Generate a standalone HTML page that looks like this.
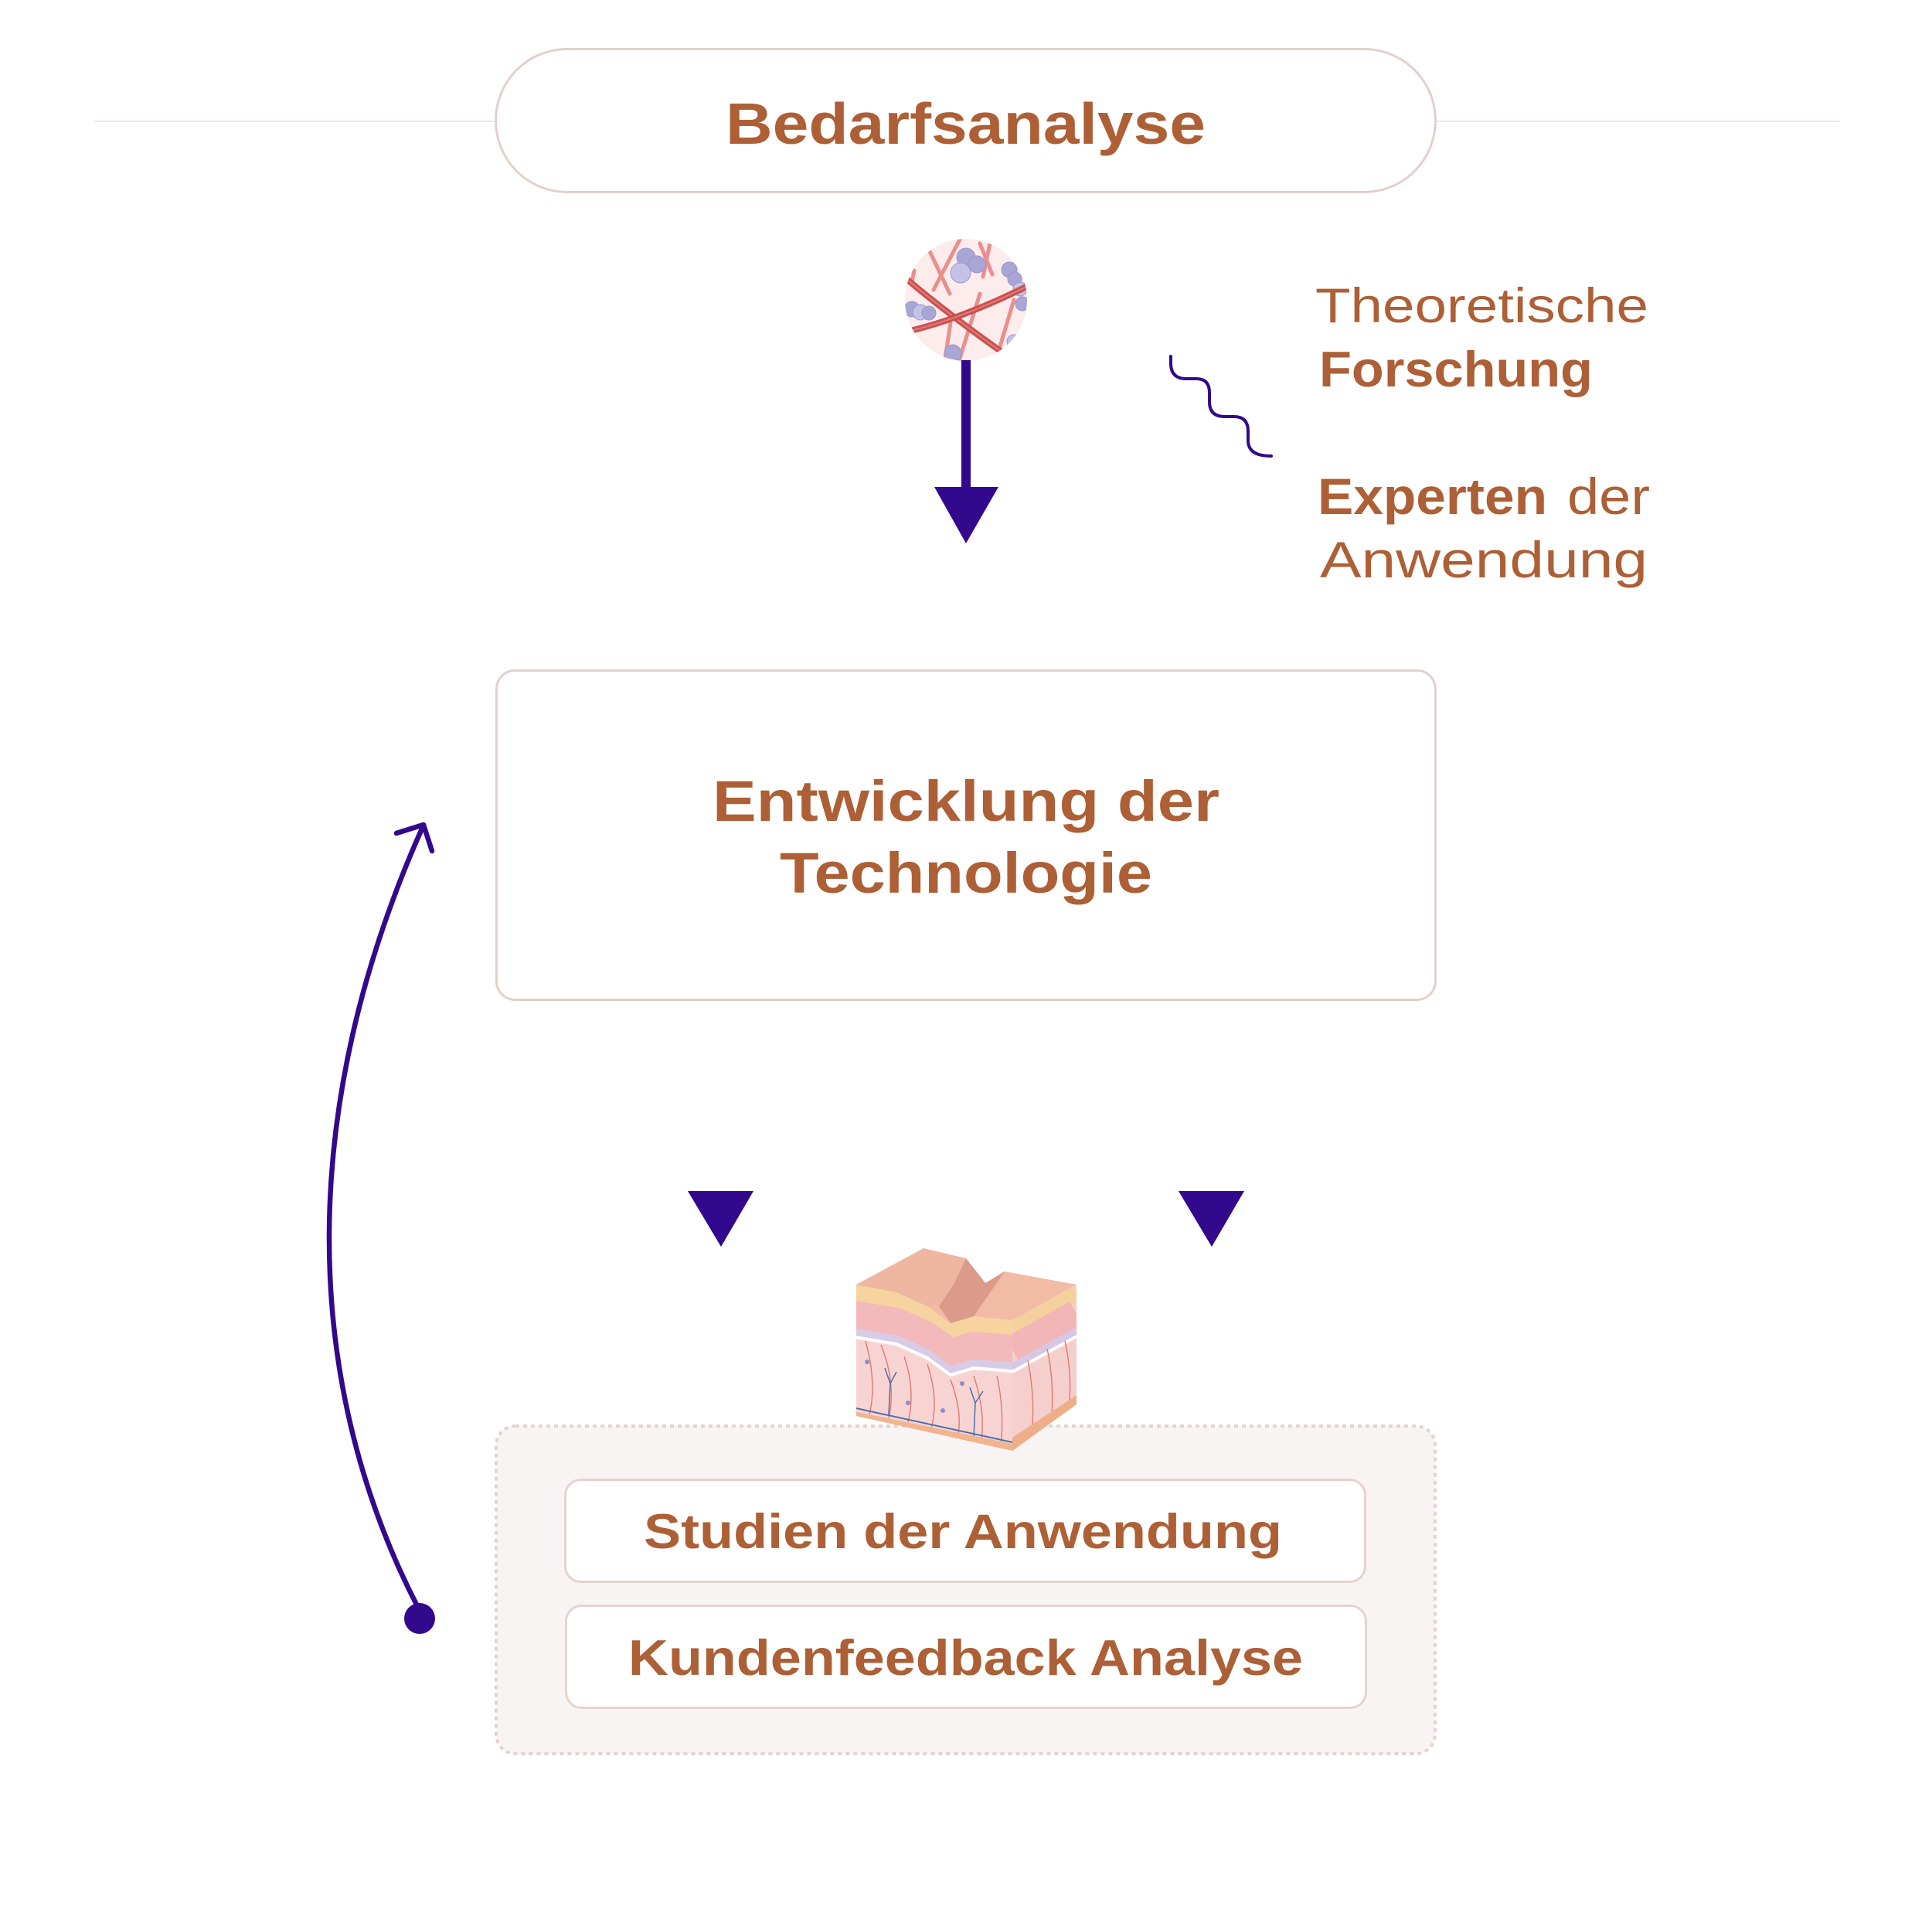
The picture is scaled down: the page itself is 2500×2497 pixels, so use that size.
<!DOCTYPE html>
<html>
<head>
<meta charset="utf-8">
<style>
  html,body{margin:0;padding:0;background:#ffffff;}
  svg{display:block;}
  .t{font-family:"Liberation Sans",sans-serif;fill:#ad5f36;}
</style>
</head>
<body>
<svg width="2500" height="2497" viewBox="0 0 2500 2497" xmlns="http://www.w3.org/2000/svg">
  <defs>
    <clipPath id="circ"><circle cx="1250" cy="388" r="79"/></clipPath>
    <clipPath id="leftFace">
      <polygon points="1108,1662 1160,1672 1200,1690 1230,1712 1260,1703 1310,1708 1310,1877 1108,1832"/>
    </clipPath>
    <clipPath id="rightFace">
      <polygon points="1310,1708 1393,1662 1393,1817 1310,1877"/>
    </clipPath>
  </defs>

  <!-- top horizontal line -->
  <line x1="122" y1="157" x2="642" y2="157" stroke="#efe5e3" stroke-width="2"/>
  <line x1="1857" y1="157" x2="2380" y2="157" stroke="#efe5e3" stroke-width="2"/>

  <!-- pill -->
  <rect x="641.5" y="63.5" width="1216" height="185" rx="92.5" ry="92.5" fill="#ffffff" stroke="#e2d0cc" stroke-width="3"/>
  <text class="t" x="939" y="186" font-size="75" font-weight="bold" textLength="621" lengthAdjust="spacingAndGlyphs">Bedarfsanalyse</text>

  <!-- circle illustration -->
  <g clip-path="url(#circ)">
    <rect x="1160" y="300" width="180" height="180" fill="#fcecec"/>
    <!-- pink beaded fibers -->
    <g stroke="#eb8e8e" stroke-width="5" stroke-linecap="round" fill="none">
      <line x1="1203" y1="325" x2="1229" y2="380"/>
      <line x1="1242" y1="310" x2="1208" y2="375"/>
      <line x1="1268" y1="315" x2="1284" y2="355"/>
      <line x1="1281" y1="315" x2="1272" y2="358"/>
      <line x1="1268" y1="380" x2="1240" y2="470"/>
      <line x1="1312" y1="388" x2="1292" y2="455"/>
      <line x1="1230" y1="418" x2="1222" y2="470"/>
      <line x1="1183" y1="350" x2="1180" y2="365"/>
    </g>
    <!-- bubbles -->
    <g fill="#a9a6d6" stroke="#9996cc" stroke-width="1">
      <circle cx="1250" cy="333" r="12"/>
      <circle cx="1264" cy="342" r="11"/>
      <circle cx="1243" cy="353" r="13" fill="#c4c2e6"/>
      <circle cx="1306" cy="349" r="10"/>
      <circle cx="1313" cy="361" r="9"/>
      <circle cx="1320" cy="374" r="9" fill="#c4c2e6"/>
      <circle cx="1323" cy="393" r="9"/>
      <circle cx="1180" cy="400" r="10"/>
      <circle cx="1191" cy="404" r="10" fill="#c4c2e6"/>
      <circle cx="1202" cy="405" r="9"/>
      <circle cx="1233" cy="457" r="11"/>
      <circle cx="1312" cy="442" r="9" fill="#c4c2e6"/>
    </g>
    <!-- red thick fibers -->
    <path d="M1172,360 Q1225,405 1300,458" stroke="#c9504f" stroke-width="8" fill="none"/>
    <path d="M1172,360 Q1225,405 1300,458" stroke="#e07c78" stroke-width="2" fill="none"/>
    <path d="M1178,428 Q1245,412 1330,370" stroke="#c9504f" stroke-width="8" fill="none"/>
    <path d="M1178,428 Q1245,412 1330,370" stroke="#e07c78" stroke-width="2" fill="none"/>
  </g>

  <!-- main down arrow -->
  <rect x="1244" y="466" width="12" height="168" fill="#32088c"/>
  <polygon points="1209,630 1292,630 1250,703" fill="#32088c"/>

  <!-- squiggle -->
  <path d="M1515,461 L1515,470 Q1515,490 1535,490 L1548,490 Q1565,490 1565,508 L1565,520 Q1565,539 1585,539 L1597,539 Q1615,539 1615,558 L1615,570 Q1615,590 1645,590" fill="none" stroke="#32088c" stroke-width="4" stroke-linecap="round"/>

  <!-- right labels -->
  <text class="t" x="1702" y="417" font-size="63" textLength="431" lengthAdjust="spacingAndGlyphs">Theoretische</text>
  <text class="t" x="1707" y="500" font-size="65" font-weight="bold" textLength="354" lengthAdjust="spacingAndGlyphs">Forschung</text>
  <text class="t" x="1705" y="665" font-size="66" font-weight="bold" textLength="297" lengthAdjust="spacingAndGlyphs">Experten</text>
  <text class="t" x="2028" y="665" font-size="66" textLength="107" lengthAdjust="spacingAndGlyphs">der</text>
  <text class="t" x="1708" y="747" font-size="66" textLength="424" lengthAdjust="spacingAndGlyphs">Anwendung</text>

  <!-- box 2 -->
  <rect x="642.5" y="867.5" width="1215" height="426" rx="24" ry="24" fill="#ffffff" stroke="#e2d0cc" stroke-width="3"/>
  <text class="t" x="922" y="1062" font-size="74" font-weight="bold" textLength="656" lengthAdjust="spacingAndGlyphs">Entwicklung der</text>
  <text class="t" x="1009" y="1155" font-size="74" font-weight="bold" textLength="482" lengthAdjust="spacingAndGlyphs">Technologie</text>

  <!-- loop curve -->
  <path d="M540,2078 C387,1780 387,1429 546,1072" fill="none" stroke="#32088c" stroke-width="6.5" stroke-linecap="round"/>
  <polyline points="513,1078 548,1067 559,1101" fill="none" stroke="#32088c" stroke-width="6.5" stroke-linecap="round" stroke-linejoin="round"/>
  <circle cx="543" cy="2094" r="20" fill="#32088c"/>

  <!-- small triangles -->
  <polygon points="890,1541 975,1541 933,1613" fill="#32088c"/>
  <polygon points="1525,1541 1610,1541 1568,1613" fill="#32088c"/>

  <!-- dotted container -->
  <rect x="642" y="1845" width="1215" height="424" rx="25" ry="25" fill="#f8f4f3" stroke="#e5d3cf" stroke-width="4" stroke-dasharray="5 5"/>

  <!-- inner boxes -->
  <rect x="731.5" y="1914.5" width="1035" height="132" rx="20" ry="20" fill="#ffffff" stroke="#e5d3cf" stroke-width="3"/>
  <rect x="732.5" y="2077.5" width="1035" height="132" rx="20" ry="20" fill="#ffffff" stroke="#e5d3cf" stroke-width="3"/>
  <text class="t" x="833" y="2003" font-size="63" font-weight="bold" textLength="826" lengthAdjust="spacingAndGlyphs">Studien der Anwendung</text>
  <text class="t" x="813" y="2167" font-size="65" font-weight="bold" textLength="873" lengthAdjust="spacingAndGlyphs">Kundenfeedback Analyse</text>

  <!-- skin block illustration -->
  <g>
    <!-- left face -->
    <g clip-path="url(#leftFace)">
      <rect x="1100" y="1650" width="220" height="240" fill="#f7d4d2"/>
      <g fill="none" stroke-linejoin="round">
        <polyline points="1100,1662 1160,1672 1200,1690 1230,1712 1260,1703 1320,1708" transform="translate(0,10)" stroke="#f6d39f" stroke-width="22"/>
        <polyline points="1100,1662 1160,1672 1200,1690 1230,1712 1260,1703 1320,1708" transform="translate(0,38)" stroke="#f4b9bb" stroke-width="36"/>
        <polyline points="1100,1662 1160,1672 1200,1690 1230,1712 1260,1703 1320,1708" transform="translate(0,60)" stroke="#d8cbe6" stroke-width="9"/>
        <polyline points="1100,1662 1160,1672 1200,1690 1230,1712 1260,1703 1320,1708" transform="translate(0,67)" stroke="#ffffff" stroke-width="4"/>
      </g>
      <g stroke="#de7f76" stroke-width="1.5" fill="none">
        <path d="M1120,1735 Q1135,1790 1125,1830"/>
        <path d="M1140,1740 Q1160,1790 1150,1835"/>
        <path d="M1170,1755 Q1185,1800 1175,1840"/>
        <path d="M1200,1765 Q1215,1810 1205,1848"/>
        <path d="M1230,1785 Q1245,1825 1240,1855"/>
        <path d="M1260,1780 Q1275,1825 1270,1862"/>
        <path d="M1290,1780 Q1300,1825 1295,1870"/>
      </g>
      <g stroke="#4a6fb0" stroke-width="1.5" fill="none">
        <path d="M1150,1830 L1152,1790 L1145,1770 M1152,1790 L1160,1775"/>
        <path d="M1260,1860 L1262,1815 L1255,1795 M1262,1815 L1272,1800"/>
      </g>
      <g fill="#8f8cc8">
        <circle cx="1122" cy="1762" r="3"/>
        <circle cx="1175" cy="1815" r="3"/>
        <circle cx="1220" cy="1825" r="3"/>
        <circle cx="1245" cy="1790" r="3"/>
      </g>
      <polygon points="1100,1825 1310,1868 1310,1890 1100,1890" fill="#f2b48e"/>
      <line x1="1108" y1="1822" x2="1310" y2="1866" stroke="#4a6fb0" stroke-width="2"/>
    </g>
    <!-- right face -->
    <g clip-path="url(#rightFace)">
      <rect x="1300" y="1650" width="100" height="240" fill="#f5cfcc"/>
      <polyline points="1310,1708 1393,1662" transform="translate(0,10)" stroke="#f5d09c" stroke-width="22" fill="none"/>
      <polyline points="1310,1708 1393,1662" transform="translate(0,38)" stroke="#f2b6b7" stroke-width="36" fill="none"/>
      <polyline points="1310,1708 1393,1662" transform="translate(0,60)" stroke="#d6c8e4" stroke-width="9" fill="none"/>
      <polyline points="1310,1708 1393,1662" transform="translate(0,67)" stroke="#ffffff" stroke-width="4" fill="none"/>
      <g stroke="#de7f76" stroke-width="1.5" fill="none">
        <path d="M1330,1760 Q1340,1810 1335,1860"/>
        <path d="M1355,1745 Q1365,1790 1360,1845"/>
        <path d="M1378,1735 Q1388,1780 1383,1825"/>
      </g>
      <polygon points="1310,1860 1393,1805 1393,1830 1310,1890" fill="#eeae88"/>
    </g>
    <!-- top surface -->
    <polygon points="1108,1662 1195,1615 1250,1628 1275,1660 1300,1645 1393,1662 1310,1708 1260,1703 1230,1712 1200,1690 1160,1672" fill="#f1bba6"/>
    <polygon points="1250,1628 1275,1660 1300,1645 1260,1703 1230,1712 1215,1690 1235,1660" fill="#dc9a8a"/>
    <polygon points="1195,1615 1250,1628 1235,1660 1215,1690 1200,1690 1160,1672 1108,1662" fill="#efb29e" opacity="0.6"/>
  </g>
</svg>
</body>
</html>
